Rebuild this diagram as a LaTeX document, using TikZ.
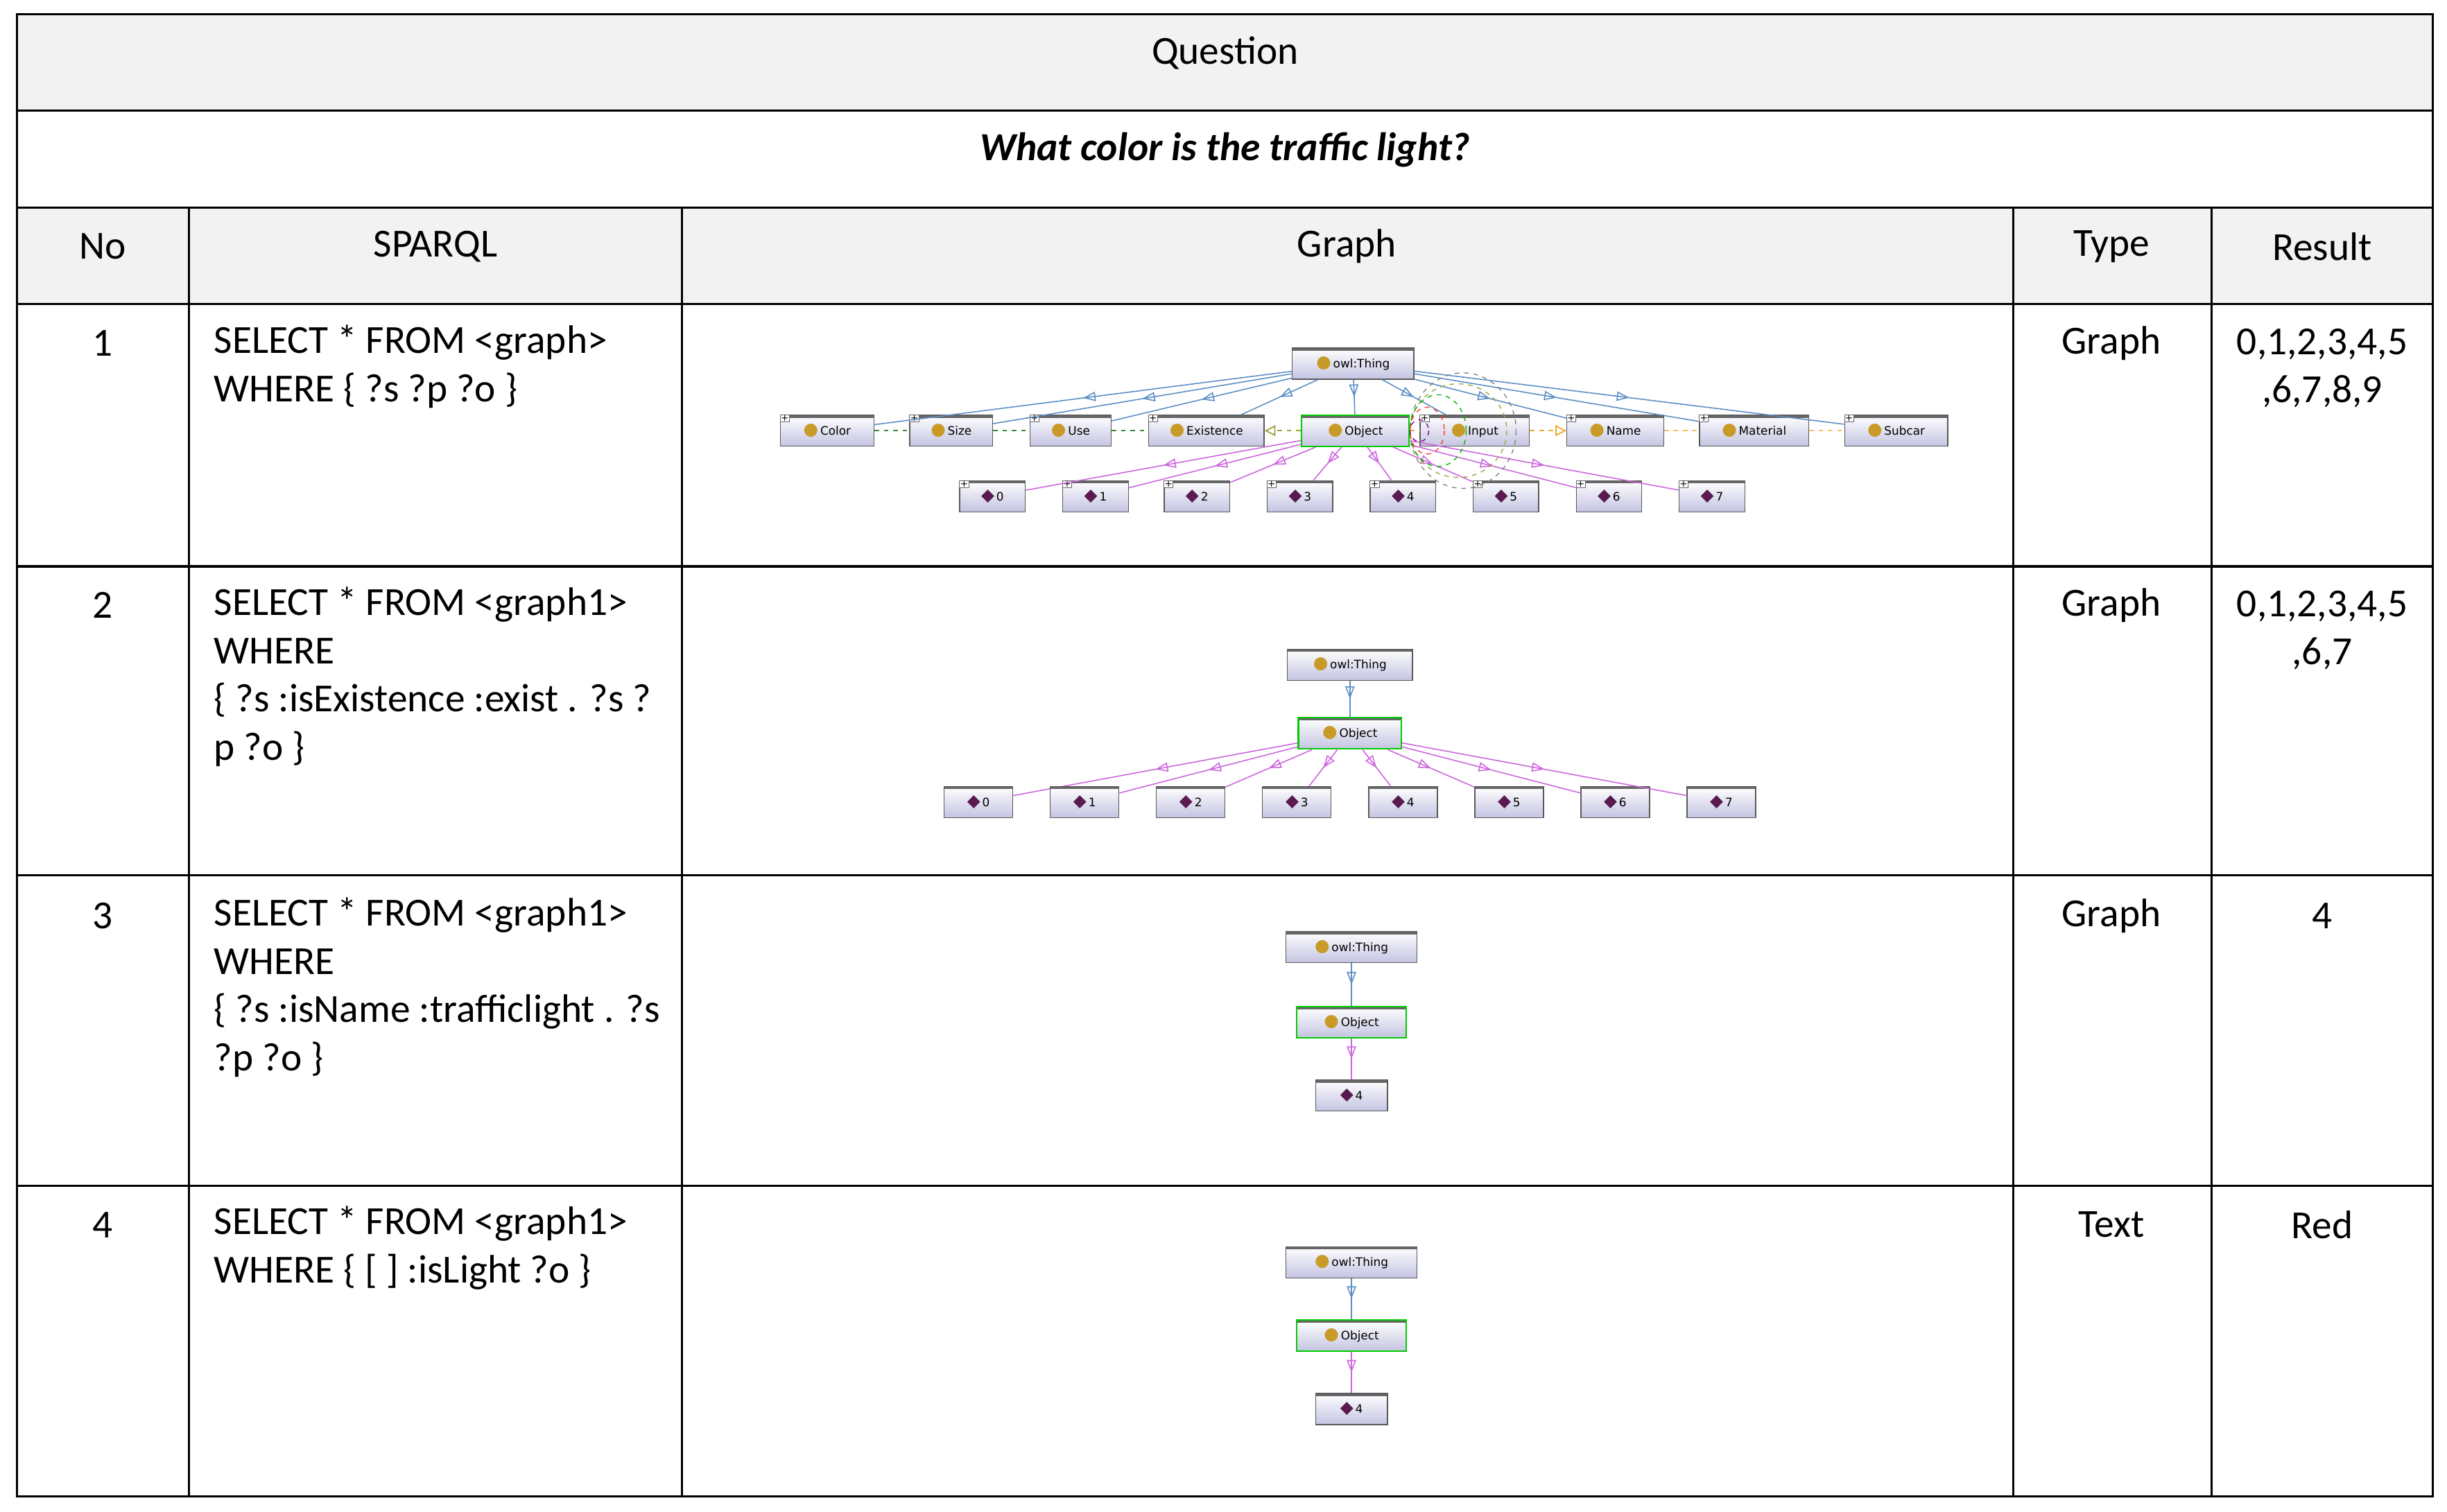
\documentclass[tikz,border=0pt]{standalone}
\usepackage{fontspec}
\setmainfont{Carlito}
\newfontfamily\nodefont{DejaVu Sans}
\usetikzlibrary{arrows.meta,decorations.markings}
\definecolor{hdr}{HTML}{F2F2F2}
\definecolor{lav}{HTML}{C4C4E2}
\definecolor{gold}{HTML}{C89A28}
\definecolor{dia}{HTML}{5A1A50}
\definecolor{bl}{HTML}{5B8EC4}
\definecolor{pk}{HTML}{CC66DD}
\definecolor{gr}{HTML}{3A8A3A}
\definecolor{org}{HTML}{F0A830}
\definecolor{olv}{HTML}{A0A040}
\tikzset{
  cls/.style={draw=black!65, line width=0.6pt, top color=white, bottom color=lav, minimum height=20, inner sep=1pt,
    font=\nodefont\fontsize{7.5}{8}\selectfont,
    path picture={\fill[black!60] (path picture bounding box.north west) rectangle ([yshift=-1.8pt]path picture bounding box.north east);}},
  sel/.style={draw=green!80!black, line width=1pt},
  plus/.style={label={[anchor=north west, draw=black!60, fill=white, inner sep=0.4pt, font=\nodefont\fontsize{6}{6}\selectfont]north west:+}},
  midarr/.style={postaction={decorate}, decoration={markings, mark=at position .5 with {\arrow{Triangle[open,length=8pt,width=6pt]}}}},
  be/.style={draw=bl, line width=0.7pt, midarr},
  pe/.style={draw=pk, line width=0.7pt, midarr},
  cell/.style={font=\fontsize{25.5}{31}\selectfont},
  sq/.style={cell, anchor=north west, align=left, inner sep=0pt},
  tl/.style={line width=1.4pt},
}
\newcommand{\ci}{{\fontsize{11}{8}\selectfont\textcolor{gold}{●}}\,}
\newcommand{\di}{{\fontsize{11}{8}\selectfont\textcolor{dia}{◆}}\,}
\begin{document}
\begin{tikzpicture}[x=1pt,y=-1pt]
\useasboundingbox (0,0) rectangle (1568,969);
\fill[hdr] (11,9) rectangle (1559,71);
\fill[hdr] (11,133) rectangle (1559,195);
\draw[tl] (11,9) rectangle (1559,959);
\foreach \y in {71,133,195,363,561,760} \draw[tl] (11,\y) -- (1559,\y);
\foreach \x in {121,437,1290,1417} \draw[tl] (\x,133) -- (\x,959);
\node[cell] (q) at (785,34) {Question};
\node[cell] (qq) at (785,96) {\bfseries\itshape What color is the traffic light?};
\node[cell] (hno) at (66,158) {No};
\node[cell] (hsp) at (279,158) {SPARQL};
\node[cell] (hgr) at (863,158) {Graph};
\node[cell] (hty) at (1353,158) {Type};
\node[cell] (hre) at (1488,158) {Result};
\foreach \n/\y in {1/220,2/388,3/587,4/785}{
  \node[cell] (no\n) at (66,\y) {\n};
}
\node[sq] (s1) at (137,208) {SELECT * FROM <graph>\\WHERE \{ ?s ?p ?o \}};
\node[sq] (s2) at (137,376) {SELECT * FROM <graph1>\\WHERE\\\{ ?s :isExistence :exist . ?s ?\\p ?o \}};
\node[sq] (s3) at (137,575) {SELECT * FROM <graph1>\\WHERE\\\{ ?s :isName :trafficlight . ?s\\?p ?o \}};
\node[sq] (s4) at (137,773) {SELECT * FROM <graph1>\\WHERE \{ [ ] :isLight ?o \}};
\node[cell] (t1) at (1353,220) {Graph};
\node[cell] (t2) at (1353,388) {Graph};
\node[cell] (t3) at (1353,587) {Graph};
\node[cell] (t4) at (1353,785) {Text};
\node[cell, align=center, anchor=north] (r1) at (1488,207) {0,1,2,3,4,5\\,6,7,8,9};
\node[cell, align=center, anchor=north] (r2) at (1488,375) {0,1,2,3,4,5\\,6,7};
\node[cell] (r3) at (1488,587) {4};
\node[cell] (r4) at (1488,785) {Red};

% ---------- Row 1 graph ----------
\node[cls, minimum width=78] (aT) at (867,233) {\ci owl:Thing};
\node[cls, plus, minimum width=60] (aColor) at (530,276) {\ci Color};
\node[cls, plus, minimum width=53] (aSize) at (609.5,276) {\ci Size};
\node[cls, plus, minimum width=52] (aUse) at (686,276) {\ci Use};
\node[cls, plus, minimum width=74] (aEx) at (773,276) {\ci Existence};
\node[cls, sel, minimum width=69] (aObj) at (868.5,276) {\ci Object};
\node[cls, plus, minimum width=70] (aIn) at (945,276) {\ci Input};
\node[cls, plus, minimum width=62] (aName) at (1035,276) {\ci Name};
\node[cls, plus, minimum width=70] (aMat) at (1124,276) {\ci Material};
\node[cls, plus, minimum width=66] (aSub) at (1215,276) {\ci Subcar};
\foreach \i/\x in {0/636,1/702,2/767,3/833,4/899,5/965,6/1031,7/1097}{
  \node[cls, plus, minimum width=42] (aL\i) at (\x,318) {\di\i};
}
\foreach \c in {aColor,aSize,aUse,aEx,aObj,aIn,aName,aMat,aSub} \draw[be] (aT) -- (\c);
\foreach \i in {0,...,7} \draw[pe] (aObj) -- (aL\i);
\draw[gr, dashed, line width=0.8pt] (aColor) -- (aSize);
\draw[gr, dashed, line width=0.8pt] (aSize) -- (aUse);
\draw[gr, dashed, line width=0.8pt] (aUse) -- (aEx);
\draw[olv, dashed, line width=0.8pt, -{Triangle[open,length=7pt,width=7pt]}] (aObj) -- (aEx);
\draw[org, dashed, line width=0.8pt] (aObj) -- (aIn);
\draw[org, dashed, line width=0.8pt, -{Triangle[open,length=7pt,width=7pt]}] (aIn) -- (aName);
\draw[org!70, dashed, line width=0.8pt] (aName) -- (aMat);
\draw[org!70, dashed, line width=0.8pt] (aMat) -- (aSub);
\coordinate (loop) at (aObj.east);
\draw[gray, dashed, line width=0.6pt] ([xshift=34pt]loop) ellipse [x radius=34, y radius=37];
\draw[olv, dashed, line width=0.6pt] ([xshift=31pt]loop) ellipse [x radius=31, y radius=30];
\draw[green!70!black, dashed, line width=0.6pt] ([xshift=18pt]loop) ellipse [x radius=18, y radius=23];
\draw[red!80, dashed, line width=0.6pt] ([xshift=11pt]loop) ellipse [x radius=11, y radius=15];
\draw[violet, dashed, line width=0.6pt] ([xshift=6pt]loop) ellipse [x radius=6, y radius=7];

% ---------- Row 2 graph ----------
\node[cls, minimum width=80] (bT) at (865,426) {\ci owl:Thing};
\node[cls, sel, minimum width=66] (bObj) at (865,470) {\ci Object};
\foreach \i/\x in {0/627,1/695,2/763,3/831,4/899,5/967,6/1035,7/1103}{
  \node[cls, minimum width=44] (bL\i) at (\x,514) {\di\i};
  \draw[pe] (bObj) -- (bL\i);
}
\draw[be] (bT) -- (bObj);

% ---------- Row 3 graph ----------
\node[cls, minimum width=84] (cT) at (866,607) {\ci owl:Thing};
\node[cls, sel, minimum width=70] (cObj) at (866,655) {\ci Object};
\node[cls, minimum width=46] (cL) at (866,702) {\di 4};
\draw[be] (cT) -- (cObj);
\draw[pe] (cObj) -- (cL);

% ---------- Row 4 graph ----------
\node[cls, minimum width=84] (dT) at (866,809) {\ci owl:Thing};
\node[cls, sel, minimum width=70] (dObj) at (866,856) {\ci Object};
\node[cls, minimum width=46] (dL) at (866,903) {\di 4};
\draw[be] (dT) -- (dObj);
\draw[pe] (dObj) -- (dL);
\end{tikzpicture}
\end{document}
